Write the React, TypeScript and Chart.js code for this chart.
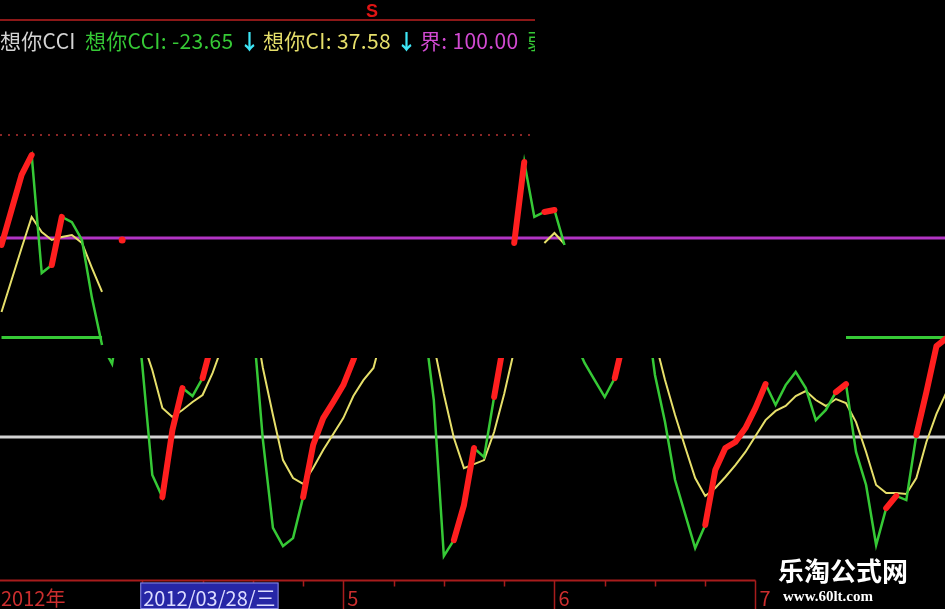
import React, { useEffect, useRef } from 'react';
import { Chart, registerables } from 'chart.js';

Chart.register(...registerables);

// ---- bar index (trading days) ----
const BARS = [
  0, 1, 2, 3, 4, 5, 6, 7, 8, 9, 10, 11, 12, 13, 14, 15, 16, 17, 18, 19,
  20, 21, 22, 23, 24, 25, 26, 27, 28, 29, 30, 31, 32, 33, 34, 35, 36, 37, 38, 39,
  40, 41, 42, 43, 44, 45, 46, 47, 48, 49, 50, 51, 52, 53, 54, 55, 56, 57, 58, 59,
  60, 61, 62, 63, 64, 65, 66, 67, 68, 69, 70, 71, 72, 73, 74, 75, 76, 77, 78, 79,
  80, 81, 82, 83, 84, 85, 86, 87, 88, 89, 90, 91, 92, 93, 94,
];

// ---- upper pane (visible only where the source shows it) ----
const CCI_UPPER = [
  96.5, 114.1, 131.7, 141.7, 82.4, 86.4, 110.6, 108.0, 99.0, 69.8,
  46.2, null, null, null, null, null, null, null, null, null,
  null, null, null, null, null, null, null, null, null, null,
  null, null, null, null, null, null, null, null, null, null,
  null, null, null, null, null, null, null, null, null, null,
  null, 97.5, 138.2, 110.6, 113.1, 114.1, 96.5, null, null, null,
  null, null, null, null, null, null, null, null, null, null,
  null, null, null, null, null, null, null, null, null, null,
  null, null, null, null, null, null, null, null, null, null,
  null, null, null, null, null,
];
const STRONG_UPPER = [
  96.5, 114.1, 131.7, 141.7, null, 86.4, 110.6, null, null, null,
  null, null, 99.0, null, null, null, null, null, null, null,
  null, null, null, null, null, null, null, null, null, null,
  null, null, null, null, null, null, null, null, null, null,
  null, null, null, null, null, null, null, null, null, null,
  null, 97.5, 138.2, null, 113.1, 114.1, null, null, null, null,
  null, null, null, null, null, null, null, null, null, null,
  null, null, null, null, null, null, null, null, null, null,
  null, null, null, null, null, null, null, null, null, null,
  null, 1.0, 22.6, 45.7, 49.7,
];
const CI_UPPER = [
  62.8, 78.9, 95.0, 110.6, 103.0, 99.0, 100.5, 101.5, 97.5, 84.9,
  72.9, null, null, null, null, null, null, null, null, null,
  null, null, null, null, null, null, null, null, null, null,
  null, null, null, null, null, null, null, null, null, null,
  null, null, null, null, null, null, null, null, null, null,
  null, null, null, null, 97.5, 102.5, 97.0, null, null, null,
  null, null, null, null, null, null, null, null, null, null,
  null, null, null, null, null, null, null, null, null, null,
  null, null, null, null, null, null, null, null, null, null,
  null, null, null, null, null,
];
const WEAK = [
  50, 50, 50, 50, 50, 50, 50, 50, 50, 50,
  50, null, null, null, null, null, null, null, null, null,
  null, null, null, null, null, null, null, null, null, null,
  null, null, null, null, null, null, null, null, null, null,
  null, null, null, null, null, null, null, null, null, null,
  null, null, null, null, null, null, null, null, null, null,
  null, null, null, null, null, null, null, null, null, null,
  null, null, null, null, null, null, null, null, null, null,
  null, null, null, null, 50, 50, 50, 50, 50, 50,
  50, 50, 50, 50, 50,
];

// ---- lower pane (shown only below BAND_TOP) ----
const CCI_LOWER = [
  null, null, null, null, null, null, null, null, null, null,
  46.2, 36.7, 68.8, 83.9, 36.2, -19.1, -30.2, 3.5, 24.6, 20.6,
  29.6, 48.7, 68.8, 83.9, 78.9, 58.8, -1.5, -45.7, -54.8, -50.8,
  -30.2, -4.0, 9.5, 17.6, 26.1, 38.7, 53.8, 78.9, 94.0, 99.0,
  94.0, 83.9, 58.8, 18.6, -59.8, -51.8, -34.2, -5.5, -10.1, 20.1,
  48.7, 97.5, 138.2, 110.6, 113.1, 114.1, 96.5, 48.7, 37.2, 28.6,
  20.1, 29.6, 51.3, 78.9, 68.8, 31.2, 7.5, -21.6, -38.7, -55.8,
  -44.2, -16.6, -5.5, -2.5, 4.5, 14.6, 26.6, 16.1, 26.1, 32.7,
  24.6, 8.5, 13.6, 22.6, 26.6, -7.5, -24.1, -54.3, -35.7, -29.6,
  -31.7, 1.0, 22.6, 45.7, 49.7,
];
const STRONG_LOWER = [
  null, null, null, null, null, null, null, null, null, null,
  null, null, null, null, null, null, -30.2, 3.5, 24.6, null,
  29.6, 48.7, null, null, null, null, null, null, null, null,
  -30.2, -4.0, 9.5, 17.6, 26.1, 38.7, 53.8, null, null, null,
  null, null, null, null, null, -51.8, -34.2, -5.5, null, 20.1,
  48.7, null, null, null, null, null, null, null, null, null,
  null, 29.6, 51.3, null, null, null, null, null, null, null,
  -44.2, -16.6, -5.5, -2.5, 4.5, 14.6, 26.6, null, null, null,
  null, null, null, 22.6, 26.6, null, null, null, -35.7, -29.6,
  null, null, null, null, null,
];
const CI_LOWER = [
  null, null, null, null, null, null, null, null, null, null,
  null, null, null, 68.8, 48.7, 33.7, 14.6, 10.1, 13.6, 17.6,
  21.1, 32.2, 46.2, 68.8, 73.9, 63.8, 34.7, 11.1, -11.6, -20.6,
  -23.6, -15.6, -6.5, 1.5, 9.5, 20.6, 28.6, 34.7, 53.8, 68.8,
  78.9, 78.9, 68.8, 46.2, 21.6, -0.5, -15.6, -13.6, -11.6, 2.5,
  21.6, 43.7, 68.8, 88.9, 97.5, 102.5, 97.0, 83.9, 73.9, 68.8,
  63.8, 63.8, 68.8, 73.9, 68.8, 48.7, 28.6, 11.1, -5.0, -20.6,
  -29.6, -25.6, -20.1, -14.1, -7.5, 0.5, 8.5, 13.1, 15.6, 20.6,
  23.1, 18.6, 15.6, 19.1, 17.1, 7.5, -7.5, -24.1, -28.1, -28.1,
  -28.6, -20.6, -2.5, 11.6, 22.6,
];

// ---- levels and axis ----
const Y_MIN = -72;
const Y_MAX = 190;
const BAND_TOP = 39.7;
const BOUND_LEVEL = 100;
const ZERO_LEVEL = 0;
const TOP_GRID_LEVEL = 151.8;
const WEEK_TICKS = [14, 20, 25, 30, 39, 44, 50, 60, 65, 70];
const MONTH_TICKS = [34, 55, 75];
const MONTH_LABELS = ['5', '6', '7'];
const YEAR_LABEL = '2012年';
const CURSOR_INDEX = 14;
const CURSOR_LABEL = '2012/03/28/三';

const GREEN = '#36c936';
const YELLOW = '#e6df6a';
const RED = '#ff1f1f';
const PURPLE = '#b234c4';
const GRAY = '#d2d2d2';
const AXIS_RED = '#a81c1c';
const CJK = '"Noto Sans CJK SC", "Noto Sans", sans-serif';
const HEADER_W = 535;

const panePlugin = {
  id: 'pane',
  beforeDatasetsDraw(chart: any) {
    const { ctx, chartArea: a, scales } = chart;
    const y = scales.y;
    ctx.save();
    ctx.lineWidth = 3;
    ctx.strokeStyle = PURPLE;
    let py = y.getPixelForValue(BOUND_LEVEL);
    ctx.beginPath(); ctx.moveTo(a.left, py); ctx.lineTo(a.right, py); ctx.stroke();
    ctx.strokeStyle = GRAY;
    py = y.getPixelForValue(ZERO_LEVEL);
    ctx.beginPath(); ctx.moveTo(a.left, py); ctx.lineTo(a.right, py); ctx.stroke();
    ctx.strokeStyle = '#8a2626';
    ctx.lineWidth = 2;
    ctx.setLineDash([2, 6]);
    py = Math.round(y.getPixelForValue(TOP_GRID_LEVEL));
    ctx.beginPath(); ctx.moveTo(a.left, py); ctx.lineTo(HEADER_W, py); ctx.stroke();
    ctx.restore();
  },
  beforeDatasetDraw(chart: any, args: any) {
    const ds = chart.data.datasets[args.index];
    if (ds.clipAbove == null) return;
    const { ctx, chartArea: a } = chart;
    const top = chart.scales.y.getPixelForValue(ds.clipAbove);
    ctx.save();
    ctx.beginPath();
    ctx.rect(a.left, top, a.right - a.left, a.bottom - top);
    ctx.clip();
  },
  afterDatasetDraw(chart: any, args: any) {
    const ds = chart.data.datasets[args.index];
    if (ds.clipAbove == null) return;
    chart.ctx.restore();
  },
  afterDraw(chart: any) {
    const { ctx, chartArea: a, scales } = chart;
    const x = scales.x;
    const base = Math.round(a.bottom) + 0.5;
    const H = chart.height;
    ctx.save();
    ctx.strokeStyle = AXIS_RED;
    ctx.lineWidth = 2;
    ctx.beginPath();
    ctx.moveTo(0, base);
    ctx.lineTo(x.getPixelForValue(MONTH_TICKS[MONTH_TICKS.length - 1]), base);
    ctx.stroke();
    ctx.lineWidth = 1.5;
    WEEK_TICKS.forEach((t) => {
      const px = Math.round(x.getPixelForValue(t)) + 0.5;
      ctx.beginPath(); ctx.moveTo(px, base); ctx.lineTo(px, base + 6); ctx.stroke();
    });
    MONTH_TICKS.forEach((t) => {
      const px = Math.round(x.getPixelForValue(t)) + 0.5;
      ctx.beginPath(); ctx.moveTo(px, base); ctx.lineTo(px, H); ctx.stroke();
    });
    ctx.font = `20px ${CJK}`;
    ctx.textBaseline = 'alphabetic';
    ctx.fillStyle = '#cc2e2e';
    ctx.fillText(YEAR_LABEL, 1, H - 3);
    MONTH_TICKS.forEach((t, i) => {
      ctx.fillText(MONTH_LABELS[i], x.getPixelForValue(t) + 4, H - 3);
    });
    // cursor date box
    const cx = x.getPixelForValue(CURSOR_INDEX) - 2;
    const w = ctx.measureText(CURSOR_LABEL).width + 6;
    ctx.fillStyle = '#2626a6';
    ctx.fillRect(cx, base + 2, w, H - base - 2);
    ctx.strokeStyle = '#8a8ae0';
    ctx.lineWidth = 1;
    ctx.strokeRect(cx + 0.5, base + 2.5, w - 1, H - base - 3);
    ctx.fillStyle = '#dcdcff';
    ctx.fillText(CURSOR_LABEL, cx + 3, H - 3);
    ctx.restore();
  },
};

function line(label: string, data: any[], color: string, width: number, extra: any = {}) {
  return {
    label,
    data,
    borderColor: color,
    backgroundColor: color,
    borderWidth: width,
    pointRadius: 0,
    pointHoverRadius: 0,
    tension: 0,
    fill: false,
    spanGaps: false,
    ...extra,
  };
}

const isolatedDot = (c: any) => {
  const d = c.dataset.data;
  const i = c.dataIndex;
  return d[i] != null && d[i - 1] == null && d[i + 1] == null ? 3.5 : 0;
};

const redStyle = {
  borderCapStyle: 'round',
  borderJoinStyle: 'round',
  pointRadius: isolatedDot,
  pointBorderWidth: 0,
};

export default function App() {
  const ref = useRef<HTMLCanvasElement>(null);
  useEffect(() => {
    document.body.style.margin = '0';
    document.body.style.background = '#000';
    const chart = new Chart(ref.current as HTMLCanvasElement, {
      type: 'line',
      data: {
        labels: BARS,
        datasets: [
          line('强', STRONG_UPPER, RED, 6, redStyle),
          line('强 ', STRONG_LOWER, RED, 6, { ...redStyle, clipAbove: BAND_TOP }),
          line('想你CCI', CCI_UPPER, GREEN, 2.5),
          line('想你CCI ', CCI_LOWER, GREEN, 2.5, { clipAbove: BAND_TOP }),
          line('想你CI', CI_UPPER, YELLOW, 2),
          line('想你CI ', CI_LOWER, YELLOW, 2, { clipAbove: BAND_TOP }),
          line('弱', WEAK, GREEN, 3),
        ] as any,
      },
      options: {
        animation: false,
        responsive: false,
        maintainAspectRatio: false,
        events: [],
        layout: { padding: { top: 58.9, bottom: 28.7, left: 0, right: 0 } },
        plugins: { legend: { display: false }, tooltip: { enabled: false } },
        scales: {
          x: { type: 'linear', min: -0.15, max: 93.85, display: false },
          y: { type: 'linear', min: Y_MIN, max: Y_MAX, display: false },
        },
      } as any,
      plugins: [panePlugin],
    });
    return () => chart.destroy();
  }, []);

  const t = (left: number, color: string, text: string, extra: any = {}) => (
    <span
      style={{
        position: 'absolute',
        left,
        top: 28,
        color,
        fontFamily: CJK,
        fontSize: 21,
        lineHeight: '24px',
        letterSpacing: '0.3px',
        whiteSpace: 'nowrap',
        ...extra,
      }}
    >
      {text}
    </span>
  );

  return (
    <div style={{ position: 'fixed', left: 0, top: 0, width: 945, height: 609, background: '#000', overflow: 'hidden' }}>
      <canvas ref={ref} width={945} height={609} style={{ position: 'absolute', left: 0, top: 0, width: 945, height: 609 }} />
      <div style={{ position: 'absolute', left: 0, top: 0, width: HEADER_W, height: 60, overflow: 'hidden' }}>
        <div style={{ position: 'absolute', left: 0, top: 19, width: HEADER_W, height: 2, background: '#8c1818' }} />
        <span style={{ position: 'absolute', left: 366, top: 2, color: '#e01414', fontFamily: '"Liberation Sans", Arial, sans-serif', fontWeight: 700, fontSize: 18, lineHeight: '18px' }}>S</span>
        {t(0, '#d4d4d4', '想你CCI')}
        {t(85, GREEN, '想你CCI: -23.65')}
        {t(239, '#3ee6f6', '↓', { fontWeight: 700 })}
        {t(263, YELLOW, '想你CI: 37.58')}
        {t(396, '#3ee6f6', '↓', { fontWeight: 700 })}
        {t(420, '#d24ad2', '界: 100.00')}
        {t(527, GREEN, '弱: 50.00')}
      </div>
      <span style={{ position: 'absolute', left: 778, top: 555, color: '#fff', fontFamily: CJK, fontWeight: 700, fontSize: 26, lineHeight: '30px', whiteSpace: 'nowrap' }}>乐淘公式网</span>
      <span style={{ position: 'absolute', left: 783, top: 587, color: '#fff', fontFamily: '"Liberation Serif", "DejaVu Serif", serif', fontWeight: 700, fontSize: 15, lineHeight: '18px', whiteSpace: 'nowrap' }}>www.60lt.com</span>
    </div>
  );
}
